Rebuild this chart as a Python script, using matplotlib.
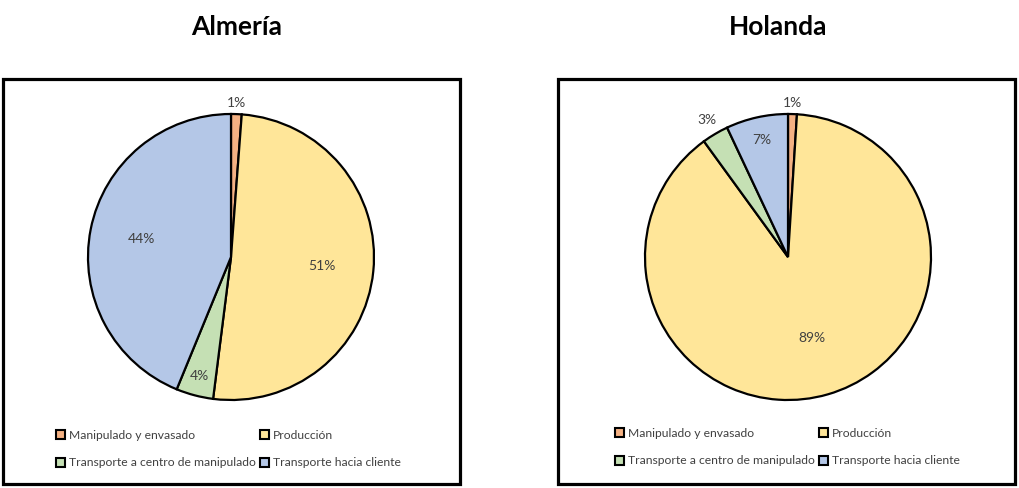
import numpy as np
import matplotlib
matplotlib.use("Agg")
import matplotlib.pyplot as plt
from matplotlib.patches import Rectangle, Patch

plt.rcParams['font.family'] = ['Lato', 'DejaVu Sans']

# data
categories = ['Manipulado y envasado', 'Producción',
              'Transporte a centro de manipulado', 'Transporte hacia cliente']
almeria = [1.2, 50.8, 4.2, 43.8]
holanda = [1.0, 89.0, 3.0, 7.0]
labels_almeria = ['1%', '51%', '4%', '44%']
labels_holanda = ['1%', '89%', '3%', '7%']
titles = ['Almería', 'Holanda']

colors = ['#F4B183', '#FFE699', '#C5E0B4', '#B4C7E7']
label_r = [[1.08, 0.64, 0.86, 0.64], [1.08, 0.59, 1.11, 0.84]]

W, H = 1020, 488
fig = plt.figure(figsize=(W / 100, H / 100), dpi=100)


def px(x0, y0, w, h):
    # pixel box (top-left origin) -> figure fraction
    return [x0 / W, 1 - (y0 + h) / H, w / W, h / H]


# frame left x, pie centre x, title x, legend left x, legend top y
panels = [(3, 231, 237, 56, 430), (558, 788, 778, 615, 428)]
for i, (vals, labs) in enumerate([(almeria, labels_almeria), (holanda, labels_holanda)]):
    bx, cx, tx, lx, ly = panels[i]
    fig.patches.append(Rectangle((bx / W, 1 - 484 / H), 457 / W, 405 / H,
                                 transform=fig.transFigure, fill=False,
                                 edgecolor='black', linewidth=2.3))
    fig.text(tx / W, 1 - 27 / H, titles[i], ha='center', va='center',
             fontsize=19, fontweight='bold', color='black')

    r = 143
    ax = fig.add_axes(px(cx - r, 257 - r, 2 * r, 2 * r))
    wedges, _ = ax.pie(vals, colors=colors, startangle=90, counterclock=False,
                       radius=1, wedgeprops=dict(edgecolor='black', linewidth=1.6))
    ax.set_xlim(-1, 1)
    ax.set_ylim(-1, 1)
    ax.set_aspect('equal')
    ax.axis('off')
    for w, lab, rr in zip(wedges, labs, label_r[i]):
        ang = np.deg2rad((w.theta1 + w.theta2) / 2)
        ax.text(rr * np.cos(ang), rr * np.sin(ang), lab, ha='center', va='center',
                fontsize=10, color='#404040', clip_on=False)

    handles = [Patch(facecolor=c, edgecolor='black', linewidth=1.5) for c in colors]
    order = [0, 2, 1, 3]
    fig.legend([handles[k] for k in order], [categories[k] for k in order],
               ncol=2, loc='upper left',
               bbox_to_anchor=(lx / W, 1 - ly / H),
               frameon=False, fontsize=8.7, labelcolor='#404040',
               handlelength=0.75, handleheight=0.75, handletextpad=0.3,
               columnspacing=0.4, labelspacing=1.35, borderaxespad=0, borderpad=0)

fig.savefig('out.png', dpi=100, facecolor='white')
